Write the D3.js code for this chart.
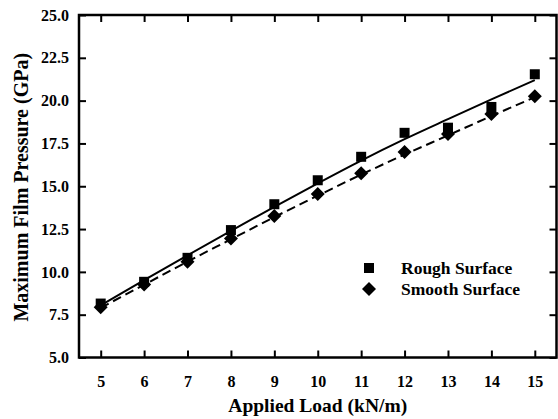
<!DOCTYPE html>
<html>
<head>
<meta charset="utf-8">
<script src="https://cdn.jsdelivr.net/npm/d3@7/dist/d3.min.js"></script>
<style>
  html, body { margin: 0; padding: 0; background: #fff; }
  svg { display: block; }
  svg text { font-family: "Liberation Serif", "Times New Roman", Times, "DejaVu Serif", serif; font-weight: bold; fill: #000; }
</style>
</head>
<body>
<svg id="chart" width="558" height="419"></svg>
<script>
// Applied load (kN/m)
const loads = [5, 6, 7, 8, 9, 10, 11, 12, 13, 14, 15];
// Measured maximum film pressure (GPa)
const roughPoints  = [8.15, 9.42, 10.82, 12.44, 13.95, 15.35, 16.72, 18.12, 18.42, 19.63, 21.54];
const smoothPoints = [7.93, 9.27, 10.59, 11.95, 13.27, 14.55, 15.76, 17.0, 18.05, 19.22, 20.26];
// Fitted curves
const roughFit  = [8.05, 9.52, 10.97, 12.40, 13.80, 15.17, 16.50, 17.75, 18.92, 20.07, 21.2];
const smoothFit = [7.9, 9.25, 10.6, 11.9, 13.2, 14.45, 15.68, 16.85, 17.97, 19.1, 20.2];
// Axis ticks
const xTicks = [5, 6, 7, 8, 9, 10, 11, 12, 13, 14, 15];
const yTicks = [5, 7.5, 10, 12.5, 15, 17.5, 20, 22.5, 25];
const legendLabels = ["Rough Surface", "Smooth Surface"];

const svg = d3.select("#chart");
const plotL = 79, plotR = 556.5, plotT = 15, plotB = 357.5;

const x = d3.scaleLinear().domain([4.5, 15.5]).range([plotL, plotR]);
const y = d3.scaleLinear().domain([5, 25]).range([plotB, plotT]);

const tickLen = 7;

// Axes: ticks point inward on all four sides
const gBottom = svg.append("g").attr("transform", `translate(0,${plotB})`)
  .call(d3.axisBottom(x).tickValues(xTicks).tickSizeInner(-tickLen).tickSizeOuter(0).tickPadding(18).tickFormat(d3.format("d")));
const gTop = svg.append("g").attr("transform", `translate(0,${plotT})`)
  .call(d3.axisTop(x).tickValues(xTicks).tickSizeInner(-tickLen).tickSizeOuter(0).tickFormat(""));
const gLeft = svg.append("g").attr("transform", `translate(${plotL},0)`)
  .call(d3.axisLeft(y).tickValues(yTicks).tickSizeInner(-tickLen).tickSizeOuter(0).tickPadding(10).tickFormat(d3.format(".1f")));
const gRight = svg.append("g").attr("transform", `translate(${plotR},0)`)
  .call(d3.axisRight(y).tickValues(yTicks).tickSizeInner(-tickLen).tickSizeOuter(0).tickFormat(""));

[gBottom, gTop, gLeft, gRight].forEach(g => {
  g.attr("font-family", null).attr("font-size", null);
  g.select(".domain").remove();
  g.selectAll(".tick line").attr("stroke", "#000").attr("stroke-width", 2);
  g.selectAll("text").attr("font-size", 16).attr("fill", "#000");
});

// Frame
svg.append("rect")
  .attr("x", plotL).attr("y", plotT)
  .attr("width", plotR - plotL).attr("height", plotB - plotT)
  .attr("fill", "none").attr("stroke", "#000").attr("stroke-width", 2.5);

// Fitted curves
const line = d3.line().x((d, i) => x(loads[i])).y(d => y(d)).curve(d3.curveMonotoneX);
svg.append("path").datum(roughFit).attr("d", line)
  .attr("fill", "none").attr("stroke", "#000").attr("stroke-width", 2);
svg.append("path").datum(smoothFit).attr("d", line)
  .attr("fill", "none").attr("stroke", "#000").attr("stroke-width", 2).attr("stroke-dasharray", "9,5");

// Markers
const sq = 10, dm = 7;
svg.append("g").selectAll("rect").data(roughPoints).join("rect")
  .attr("x", (d, i) => x(loads[i]) - sq / 2).attr("y", d => y(d) - sq / 2)
  .attr("width", sq).attr("height", sq).attr("fill", "#000");
const diamond = (cx, cy) => `M${cx},${cy - dm}L${cx + dm},${cy}L${cx},${cy + dm}L${cx - dm},${cy}Z`;
svg.append("g").selectAll("path").data(smoothPoints).join("path")
  .attr("d", (d, i) => diamond(x(loads[i]), y(d))).attr("fill", "#000");

// Legend
const legX = 369, legY = [268, 289];
svg.append("rect").attr("x", legX - 5).attr("y", legY[0] - 5).attr("width", 10).attr("height", 10).attr("fill", "#000");
svg.append("path").attr("d", diamond(legX, legY[1])).attr("fill", "#000");
legendLabels.forEach((t, i) => {
  svg.append("text").attr("x", 401).attr("y", legY[i] + 5.5).attr("font-size", 17.5).text(t);
});

// Axis titles
svg.append("text").attr("x", (plotL + plotR) / 2).attr("y", 412).attr("text-anchor", "middle")
  .attr("font-size", 19.5).text("Applied Load (kN/m)");
svg.append("text").attr("transform", `translate(28,${(plotT + plotB) / 2 + 1}) rotate(-90)`)
  .attr("text-anchor", "middle").attr("font-size", 20).text("Maximum Film Pressure (GPa)");
</script>
</body>
</html>
